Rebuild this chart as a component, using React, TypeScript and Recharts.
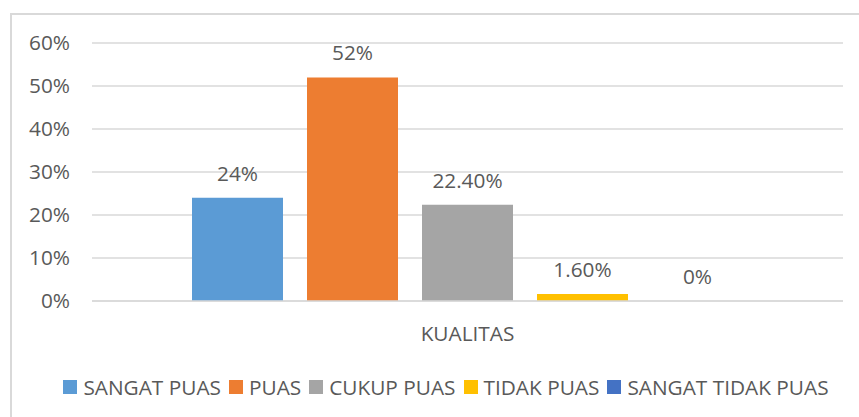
import { BarChart, Bar, XAxis, YAxis, CartesianGrid, Legend, LabelList } from 'recharts'

const categories = ['KUALITAS']
const seriesNames = ['SANGAT PUAS', 'PUAS', 'CUKUP PUAS', 'TIDAK PUAS', 'SANGAT TIDAK PUAS']
const seriesValues = [24, 52, 22.4, 1.6, 0]
const seriesColors = ['#5B9BD5', '#ED7D31', '#A5A5A5', '#FFC000', '#4472C4']
const yTicks = [0, 10, 20, 30, 40, 50, 60]

const TEXT = '#595959'
const FONT = '"Open Sans", "Noto Sans", sans-serif'
const FS = 20.8

// one row per category, one key per series
const chartData = categories.map((c) => {
  const row: Record<string, string | number> = { name: c }
  seriesNames.forEach((s, i) => {
    row[s] = seriesValues[i]
  })
  return row
})

const fmtPct = (v: number) => (Number.isInteger(v) ? `${v}%` : `${v.toFixed(2)}%`)

function LegendBox() {
  return (
    <div
      style={{
        display: 'flex',
        justifyContent: 'center',
        alignItems: 'center',
        height: 30,
        fontFamily: FONT,
        fontSize: FS,
        color: TEXT,
        whiteSpace: 'nowrap',
      }}
    >
      {seriesNames.map((s, i) => (
        <div key={s} style={{ display: 'flex', alignItems: 'center', marginRight: i < seriesNames.length - 1 ? 8 : 0 }}>
          <span style={{ width: 14, height: 14, background: seriesColors[i], marginRight: 6, display: 'inline-block' }} />
          <span>{s}</span>
        </div>
      ))}
    </div>
  )
}

export default function App() {
  return (
    <div
      style={{
        position: 'absolute',
        left: 0,
        top: 0,
        width: 859,
        height: 417,
        overflow: 'hidden',
        background: '#fff',
      }}
    >
      {/* chart frame, runs off the right and bottom edges */}
      <div
        style={{
          position: 'absolute',
          left: 10,
          top: 13,
          width: 900,
          height: 500,
          border: '2px solid #D9D9D9',
        }}
      />
      <div style={{ position: 'absolute', left: 0, top: 0 }}>
        <BarChart
          width={859}
          height={417}
          data={chartData}
          margin={{ top: 43, right: 16, left: 0, bottom: 36 }}
          barSize={91}
          barGap={24}
        >
          <CartesianGrid vertical={false} stroke="#D9D9D9" strokeWidth={1.5} />
          <XAxis
            dataKey="name"
            height={50}
            axisLine={{ stroke: '#D9D9D9', strokeWidth: 1.5 }}
            tickLine={false}
            tickMargin={19}
            tick={{ fill: TEXT, fontSize: FS, fontFamily: FONT }}
          />
          <YAxis
            width={92}
            domain={[0, 60]}
            ticks={yTicks}
            tickFormatter={(v: number) => `${v}%`}
            axisLine={false}
            tickLine={false}
            tickMargin={16}
            tick={{ fill: TEXT, fontSize: FS, fontFamily: FONT }}
          />
          <Legend
            verticalAlign="bottom"
            content={() => <LegendBox />}
            wrapperStyle={{ left: 0, width: 892, top: 372 }}
          />
          {seriesNames.map((s, i) => (
            <Bar key={s} dataKey={s} fill={seriesColors[i]} minPointSize={0.01} isAnimationActive={false}>
              <LabelList
                dataKey={s}
                position="top"
                offset={17}
                formatter={(v: number) => fmtPct(v)}
                style={{ fill: TEXT, fontSize: FS, fontFamily: FONT }}
              />
            </Bar>
          ))}
        </BarChart>
      </div>
    </div>
  )
}
